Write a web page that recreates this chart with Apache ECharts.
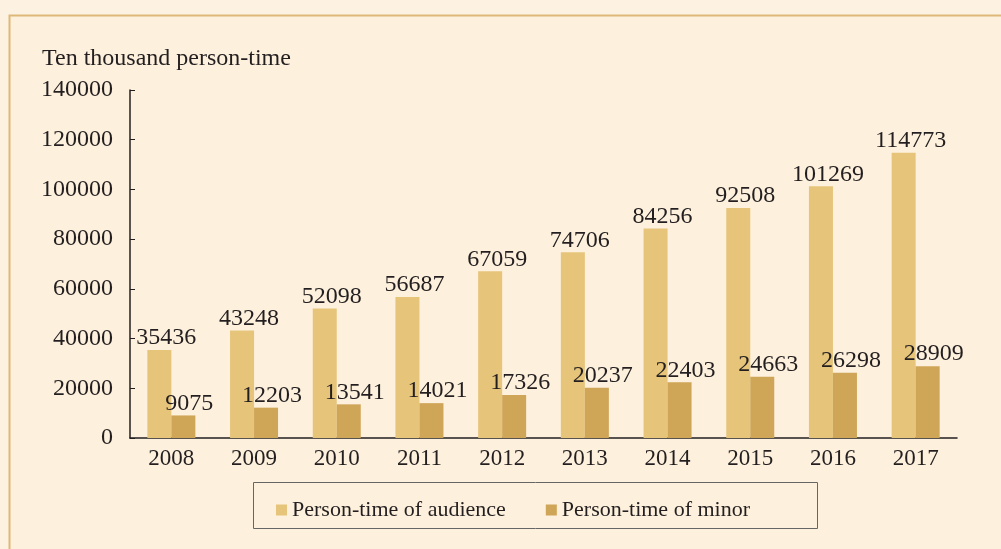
<!DOCTYPE html>
<html>
<head>
<meta charset="utf-8">
<script src="https://cdn.jsdelivr.net/npm/echarts@6/dist/echarts.min.js"></script>
<style>
  html, body { margin: 0; padding: 0; background: #fdf2e2; }
  #chart { width: 1001px; height: 549px; }
</style>
</head>
<body>
<div id="chart"></div>
<script>
const years = ['2008', '2009', '2010', '2011', '2012', '2013', '2014', '2015', '2016', '2017'];
const audience = [35436, 43248, 52098, 56687, 67059, 74706, 84256, 92508, 101269, 114773];
const minor = [9075, 12203, 13541, 14021, 17326, 20237, 22403, 24663, 26298, 28909];

const font = 'Liberation Serif';
const textColor = '#231f20';

const chart = echarts.init(document.getElementById('chart'));

chart.setOption({
  backgroundColor: '#fdf2e2',
  textStyle: { fontFamily: font },
  graphic: [
    {
      type: 'rect', z: -10,
      shape: { x: 9.5, y: 15.5, width: 1000, height: 540 },
      style: { fill: '#fdf0dc', stroke: '#deb878', lineWidth: 2 }
    },
    {
      type: 'rect', z: -5,
      shape: { x: 253.5, y: 482.5, width: 564, height: 46 },
      style: { fill: 'none', stroke: '#666', lineWidth: 1 }
    }
  ],
  grid: { left: 130, right: 44, top: 90, bottom: 111 },
  legend: {
    left: 271, top: 494,
    itemWidth: 11, itemHeight: 11, itemGap: 40,
    icon: 'rect',
    textStyle: { fontFamily: font, fontSize: 22, color: textColor },
    data: ['Person-time of audience', 'Person-time of minor']
  },
  xAxis: {
    type: 'category',
    data: years,
    axisLine: { lineStyle: { color: '#231f20', width: 1.5 } },
    axisTick: { inside: true, length: 5, lineStyle: { color: '#231f20' } },
    axisLabel: { fontFamily: font, fontSize: 23, color: textColor, margin: 9 }
  },
  yAxis: {
    type: 'value',
    min: 0, max: 140000, interval: 20000,
    name: 'Ten thousand person-time',
    nameLocation: 'end',
    nameGap: 19,
    nameTextStyle: { fontFamily: font, fontSize: 24, color: textColor, align: 'left', padding: [0, 0, 0, -88] },
    axisLine: { show: true, lineStyle: { color: '#231f20', width: 1.5 } },
    axisTick: { show: true, inside: true, length: 5, lineStyle: { color: '#231f20' } },
    splitLine: { show: false },
    axisLabel: { fontFamily: font, fontSize: 24, color: textColor, margin: 17, formatter: v => String(v) }
  },
  series: [
    {
      name: 'Person-time of audience',
      type: 'bar',
      data: audience,
      barWidth: 24,
      barGap: '0%',
      itemStyle: { color: '#e6c47a' },
      label: { show: true, position: 'top', distance: 0, offset: [7, 0], fontFamily: font, fontSize: 24, color: textColor }
    },
    {
      name: 'Person-time of minor',
      type: 'bar',
      data: minor,
      barWidth: 24,
      barGap: '0%',
      itemStyle: { color: '#cfa557' },
      label: { show: true, position: 'top', distance: 0, offset: [6, 0], fontFamily: font, fontSize: 24, color: textColor }
    }
  ]
});
</script>
</body>
</html>
